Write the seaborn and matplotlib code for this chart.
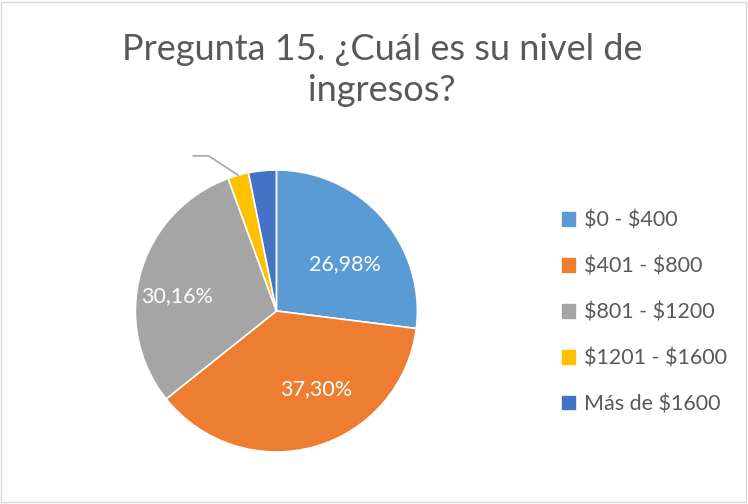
import numpy as np
import matplotlib.pyplot as plt
import matplotlib.patches as mpatches
import seaborn as sns

# data
categories = ['$0 - $400', '$401 - $800', '$801 - $1200', '$1201 - $1600', 'Más de $1600']
counts = [34, 47, 38, 3, 4]
colors = ['#5B9BD5', '#ED7D31', '#A5A5A5', '#FFC000', '#4472C4']

# label placement (radius, angle shift in degrees) -- None = no visible label
label_pos = [(0.59, -7), (0.62, 11.5), (0.71, 7), None, None]

sns.set_theme(style='white')
plt.rcParams['font.family'] = ['Lato', 'DejaVu Sans']
plt.rcParams['text.parse_math'] = False
text_color = '#595959'

fig = plt.figure(figsize=(7.48, 5.04), dpi=100)
fig.patches.append(mpatches.Rectangle((0.002, 0.003), 0.995, 0.993, transform=fig.transFigure,
                                      fill=False, edgecolor='#D9D9D9', linewidth=1))

ax = fig.add_axes([0.181, 0.103, 0.377, 0.56])
wedges, _ = ax.pie(counts, colors=colors, startangle=90, counterclock=False,
                   wedgeprops=dict(edgecolor='white', linewidth=1.2))
ax.set_aspect('equal')
ax.set_xlim(-1, 1)
ax.set_ylim(-1, 1)

total = sum(counts)
for w, c, lp in zip(wedges, counts, label_pos):
    if lp is None:
        continue
    r, shift = lp
    ang = np.deg2rad((w.theta1 + w.theta2) / 2 + shift)
    pct = f'{100 * c / total:.2f}%'.replace('.', ',')
    ax.text(r * np.cos(ang), r * np.sin(ang), pct, ha='center', va='center',
            color='white', fontsize=15.5)

# leader line for the small yellow slice (its label is not visible)
yw = wedges[3]
ang = np.deg2rad((yw.theta1 + yw.theta2) / 2)
p0 = (np.cos(ang), np.sin(ang))
p1 = (1.2 * np.cos(np.deg2rad(113.6)), 1.2 * np.sin(np.deg2rad(113.6)))
p2 = (p1[0] - 0.11, p1[1])
ax.plot([p0[0], p1[0], p2[0]], [p0[1], p1[1], p2[1]], color='#A6A6A6', lw=1.2, clip_on=False)

fig.text(0.511, 0.862, 'Pregunta 15. ¿Cuál es su nivel de\ningresos?', ha='center', va='center',
         fontsize=26, color=text_color, linespacing=1.3)

handles = [mpatches.Patch(color=c, label=l) for c, l in zip(colors, categories)]
fig.legend(handles=handles, loc='center left', bbox_to_anchor=(0.725, 0.38), frameon=False,
           fontsize=15.5, labelcolor=text_color, handlelength=0.6, handleheight=0.6,
           handletextpad=0.45, labelspacing=1.2)

fig.savefig('out.png', dpi=100)
